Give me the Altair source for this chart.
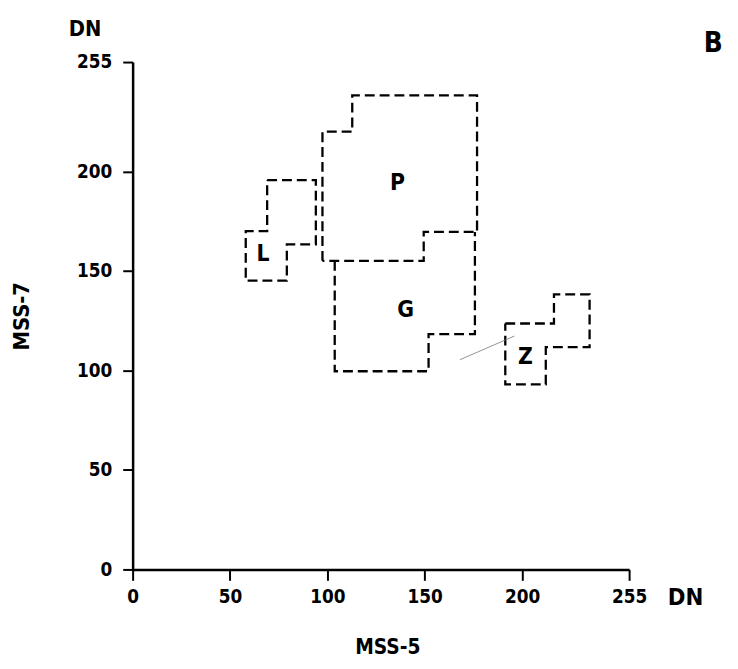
import altair as alt
import pandas as pd

# Polygon outlines (MSS-5 DN, MSS-7 DN)
P_x = [97.5, 97.5, 112.8, 112.8, 176.9, 176.9, 149.5, 149.5, 97.5]
P_y = [155.1, 220.0, 220.0, 238.2, 238.2, 169.6, 169.6, 155.1, 155.1]

G_x = [103.8, 103.8, 152.0, 152.0, 175.8, 175.8]
G_y = [155.1, 99.6, 99.6, 118.3, 118.3, 169.6]

L_x = [69.1, 94.1, 94.1, 79.2, 79.2, 58.1, 58.1, 69.1, 69.1]
L_y = [195.7, 195.7, 163.4, 163.4, 145.1, 145.1, 170.0, 170.0, 195.7]

Z_x = [191.4, 216.4, 216.4, 234.7, 234.7, 212.2, 212.2, 191.4, 191.4]
Z_y = [123.6, 123.6, 138.2, 138.2, 111.7, 111.7, 93.0, 93.0, 123.6]

# pointer line
ptr_x = [168.1, 196.1]
ptr_y = [105.4, 117.3]

# class labels
lab_text = ["P", "G", "L", "Z"]
lab_x = [136.0, 140.2, 67.0, 201.7]
lab_y = [194.0, 130.2, 158.4, 106.7]

ticks = [0, 50, 100, 150, 200, 255]

FONT = "DejaVu Sans Condensed, DejaVu Sans, sans-serif"

rows = []
for name, xs, ys in [("P", P_x, P_y), ("G", G_x, G_y), ("L", L_x, L_y), ("Z", Z_x, Z_y)]:
    for i, (a, b) in enumerate(zip(xs, ys)):
        rows.append({"shape": name, "o": i, "x": a, "y": b})
poly_df = pd.DataFrame(rows)
ptr_df = pd.DataFrame({"x": ptr_x, "y": ptr_y, "o": [0, 1]})
lab_df = pd.DataFrame({"t": lab_text, "x": lab_x, "y": lab_y})

xs = alt.Scale(domain=[0, 255], nice=False, zero=False)
ys = alt.Scale(domain=[0, 255], nice=False, zero=False)

x_axis = alt.Axis(values=ticks, title=None, grid=False, tickSize=11, tickWidth=2,
                  domainWidth=2.5, domainColor="black", tickColor="black",
                  labelFontSize=19, labelFont=FONT, labelFontWeight="bold",
                  labelColor="black", labelPadding=7, labelFlush=False)
y_axis = alt.Axis(values=ticks, title=None, grid=False, tickSize=10, tickWidth=2,
                  domainWidth=2.5, domainColor="black", tickColor="black",
                  labelFontSize=19, labelFont=FONT, labelFontWeight="bold",
                  labelColor="black", labelPadding=11, labelFlush=False)

polys = alt.Chart(poly_df).mark_line(
    color="black", strokeWidth=2.3, strokeDash=[10, 5], strokeCap="butt"
).encode(
    x=alt.X("x:Q", scale=xs, axis=x_axis),
    y=alt.Y("y:Q", scale=ys, axis=y_axis),
    detail="shape:N",
    order="o:Q",
)

ptr = alt.Chart(ptr_df).mark_line(color="#777777", strokeWidth=0.8).encode(
    x=alt.X("x:Q", scale=xs), y=alt.Y("y:Q", scale=ys), order="o:Q"
)

labels = alt.Chart(lab_df).mark_text(
    font=FONT, fontSize=23, fontWeight="bold", color="black", align="center", baseline="middle"
).encode(x=alt.X("x:Q", scale=xs), y=alt.Y("y:Q", scale=ys), text="t:N")

# annotation texts (axis unit labels, axis titles, panel letter)
ann_text = ["DN", "DN", "MSS-5", "B"]
ann_df = pd.DataFrame({
    "t": ann_text,
    "px": [-48, 559, 258, 587],
    "py": [-33, 542, 593, -18],
    "fs": [22, 24, 21, 28],
})
ann = alt.Chart(ann_df).mark_text(
    font=FONT, color="black", align="center", baseline="middle", fontWeight="bold"
).encode(
    x=alt.X("px:Q", scale=None),
    y=alt.Y("py:Q", scale=None),
    text="t:N",
    size=alt.Size("fs:Q", scale=None, legend=None),
)

ytitle = alt.Chart(pd.DataFrame({"t": ["MSS-7"]})).mark_text(
    font=FONT, color="black", fontSize=22, fontWeight="bold", angle=270,
    align="center", baseline="middle"
).encode(x=alt.value(-112), y=alt.value(257), text="t:N")

chart = alt.layer(polys, ptr, labels, ann, ytitle).properties(
    width=502, height=513,
    autosize=alt.AutoSizeParams(type="none"),
    padding={"left": 126, "top": 51, "right": 102, "bottom": 96},
    background="white",
).configure_view(strokeWidth=0)

chart.save("out.html", embed_options={"renderer": "svg", "actions": False})
